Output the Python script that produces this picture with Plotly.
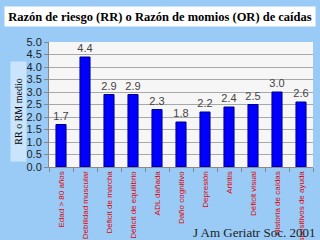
import plotly.graph_objects as go

categories = ["Edad > 80 años", "Debilidad muscular", "Déficit de marcha",
              "Déficit de equilibrio", "ADL dañada", "Daño cognitivo",
              "Depresión", "Artritis", "Déficit visual", "Historia de caídas",
              "Dispositivos de ayuda"]
values = [1.7, 4.4, 2.9, 2.9, 2.3, 1.8, 2.2, 2.4, 2.5, 3.0, 2.6]
title_text = "Razón de riesgo (RR) o Razón de momios (OR) de caídas"
y_title = "RR o RM medio"
source_text = "J Am Geriatr Soc. 2001"

W, H = 320, 240
L, R, T, B = 49, 7, 42, 73
pw, ph = W - L - R, H - T - B

def px(x):
    return (x - L) / pw

def py(y):
    return (H - B - y) / ph

fig = go.Figure(go.Bar(
    x=categories, y=values,
    marker=dict(color="#0000ff", line=dict(color="#00008b", width=1)),
    text=[f"{v:.1f}" for v in values], textposition="outside",
    constraintext="none",
    textfont=dict(family="Liberation Sans, Arial", size=11, color="#444444"),
    cliponaxis=False,
))

fig.update_layout(
    width=W, height=H,
    margin=dict(l=L, r=R, t=T, b=B, pad=0),
    paper_bgcolor="#99cbf6",
    plot_bgcolor="#f6f6f6",
    bargap=0.58,
    showlegend=False,
    xaxis=dict(
        tickangle=-90, tickfont=dict(family="Liberation Sans, Arial", size=8, color="#e00000"),
        showgrid=False, tickson="boundaries", ticks="outside", ticklen=4,
        tickcolor="#888888", showline=True, linecolor="#888888", automargin=False,
    ),
    yaxis=dict(
        range=[0, 5], dtick=0.5, tickformat=".1f",
        tickfont=dict(family="Liberation Sans, Arial", size=11, color="#222222"),
        gridcolor="#a8a8a8", gridwidth=1, ticks="outside", ticklen=4,
        tickcolor="#888888", showline=True, linecolor="#888888",
        zeroline=False, automargin=False,
    ),
    annotations=[
        dict(text="<b>" + title_text + "</b>", xref="paper", yref="paper",
             x=px(159.5), y=py(16.5), xanchor="center", yanchor="middle",
             showarrow=False, bgcolor="white", width=308, height=17,
             font=dict(family="Liberation Serif, Times New Roman", size=12.5, color="black")),
        dict(text=y_title, xref="paper", yref="paper",
             x=px(18.5), y=py(111.5), xanchor="center", yanchor="middle",
             textangle=-90, showarrow=False, bgcolor="#c9e4fb", width=97, height=13,
             font=dict(family="Liberation Serif, Times New Roman", size=10, color="black")),
        dict(text=source_text, xref="paper", yref="paper",
             x=px(317), y=py(232), xanchor="right", yanchor="middle",
             showarrow=False,
             font=dict(family="Liberation Serif, Times New Roman", size=13, color="#222222")),
    ],
)

fig.write_html("out.html")
